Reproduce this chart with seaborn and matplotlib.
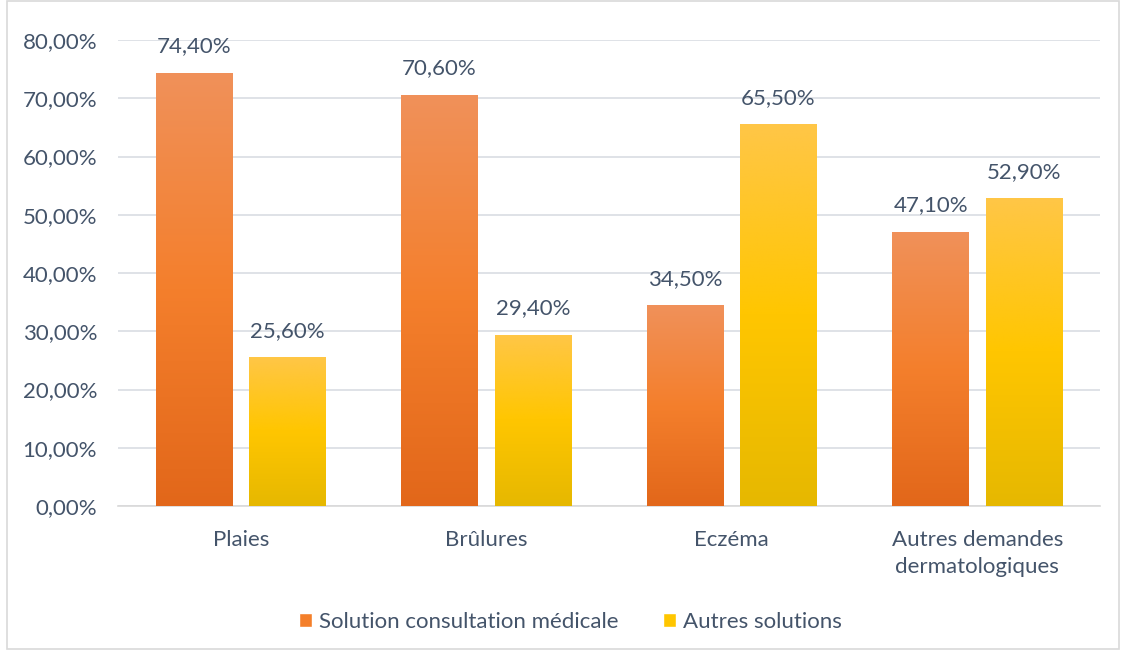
import numpy as np
import pandas as pd
import matplotlib
matplotlib.use("Agg")
import matplotlib.pyplot as plt
from matplotlib.colors import LinearSegmentedColormap
from matplotlib.patches import Rectangle, Patch
import seaborn as sns

categories = ["Plaies", "Brûlures", "Eczéma", "Autres demandes\ndermatologiques"]
series = ["Solution consultation médicale", "Autres solutions"]
medicale = [74.4, 70.6, 34.5, 47.1]
autres = [25.6, 29.4, 65.5, 52.9]
yticks = [0, 10, 20, 30, 40, 50, 60, 70, 80]

df = pd.DataFrame({
    "cat": categories * 2,
    "serie": [series[0]] * 4 + [series[1]] * 4,
    "val": medicale + autres,
})

sns.set_theme(style="white")
plt.rcParams['font.family'] = ['Lato', 'DejaVu Sans']
txt = "#44546A"
fs = 16

fig = plt.figure(figsize=(11.21, 6.5), dpi=100)
ax = fig.add_axes([118 / 1121, 1 - 506 / 650, 982 / 1121, 466 / 650])

pal = {series[0]: "#F47F2A", series[1]: "#FFC600"}
sns.barplot(data=df, x="cat", y="val", hue="serie", order=categories,
            hue_order=series, palette=pal, ax=ax, width=0.76, gap=0.18,
            legend=False, saturation=1)

grads = {
    0: LinearSegmentedColormap.from_list("o", ["#E2671A", "#F47F2C", "#F0915A"]),
    1: LinearSegmentedColormap.from_list("y", ["#E6B800", "#FFC600", "#FFC647"]),
}
ax.set_ylim(0, 80)
ax.set_xlim(-0.5, 3.5)
for i, cont in enumerate(ax.containers):
    vals = medicale if i == 0 else autres
    for p, v in zip(cont.patches, vals):
        x0, w, h = p.get_x(), p.get_width(), p.get_height()
        grad = np.linspace(0, 1, 256).reshape(-1, 1)
        im = ax.imshow(grad, cmap=grads[i], origin="lower", aspect="auto",
                       extent=[x0, x0 + w, 0, h], zorder=3)
        im.set_clip_path(p)
        p.set_facecolor("none")
        p.set_edgecolor("none")
        ax.text(x0 + w / 2, h + 4.5, f"{v:.2f}%".replace(".", ","),
                ha="center", va="center", fontsize=fs, color=txt)
ax.set_ylim(0, 80)
ax.set_xlim(-0.5, 3.5)

ax.set_yticks(yticks)
ax.set_yticklabels([f"{t:.2f}%".replace(".", ",") for t in yticks])
ax.grid(axis="y", color="#D9DDE3", linewidth=1.2, zorder=0)
ax.set_axisbelow(True)
for s in ["top", "right", "left"]:
    ax.spines[s].set_visible(False)
ax.spines["bottom"].set_color("#D9D9D9")
ax.spines["bottom"].set_linewidth(1.2)
ax.tick_params(axis="both", length=0, labelsize=fs, colors=txt)
ax.tick_params(axis="y", pad=15)
ax.tick_params(axis="x", pad=17)
for lab in ax.get_xticklabels():
    lab.set_linespacing(1.45)
ax.set_xlabel("")
ax.set_ylabel("")

handles = [Patch(facecolor="#F47F2A"), Patch(facecolor="#FFC600")]
fig.legend(handles, series, loc="center", bbox_to_anchor=(570 / 1121, 1 - 622 / 650),
           ncol=2, frameon=False, fontsize=fs, handlelength=0.6, handleheight=0.6,
           handletextpad=0.3, columnspacing=2.0, labelcolor=txt)

fig.patches.append(Rectangle((7 / 1121, 0.002), 1 - 7 / 1121 - 0.002, 0.996,
                             transform=fig.transFigure, fill=False,
                             edgecolor="#D9D9D9", linewidth=1.2))

fig.savefig("out.png", dpi=100, facecolor="white")
